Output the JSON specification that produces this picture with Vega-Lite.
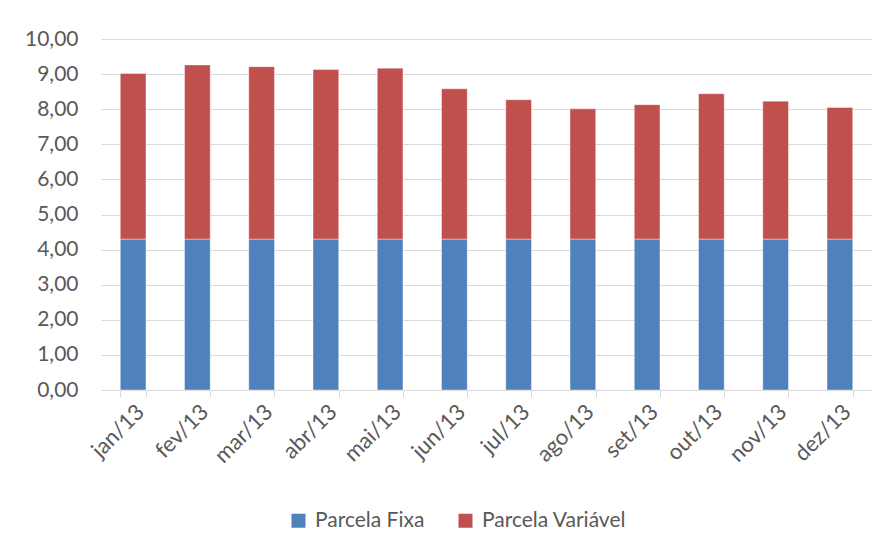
{
  "$schema": "https://vega.github.io/schema/vega-lite/v6.json",
  "width": 771,
  "height": 351,
  "autosize": {"type": "none"},
  "padding": {"left": 101, "top": 39, "right": 15, "bottom": 160},
  "background": "white",
  "config": {"view": {"stroke": null}},
  "data": {
    "values": [
      {"mes": "jan/13", "parcela": "Parcela Fixa", "valor": 4.30},
      {"mes": "jan/13", "parcela": "Parcela Variável", "valor": 4.72},
      {"mes": "fev/13", "parcela": "Parcela Fixa", "valor": 4.30},
      {"mes": "fev/13", "parcela": "Parcela Variável", "valor": 4.96},
      {"mes": "mar/13", "parcela": "Parcela Fixa", "valor": 4.30},
      {"mes": "mar/13", "parcela": "Parcela Variável", "valor": 4.91},
      {"mes": "abr/13", "parcela": "Parcela Fixa", "valor": 4.30},
      {"mes": "abr/13", "parcela": "Parcela Variável", "valor": 4.83},
      {"mes": "mai/13", "parcela": "Parcela Fixa", "valor": 4.30},
      {"mes": "mai/13", "parcela": "Parcela Variável", "valor": 4.87},
      {"mes": "jun/13", "parcela": "Parcela Fixa", "valor": 4.30},
      {"mes": "jun/13", "parcela": "Parcela Variável", "valor": 4.28},
      {"mes": "jul/13", "parcela": "Parcela Fixa", "valor": 4.30},
      {"mes": "jul/13", "parcela": "Parcela Variável", "valor": 3.97},
      {"mes": "ago/13", "parcela": "Parcela Fixa", "valor": 4.30},
      {"mes": "ago/13", "parcela": "Parcela Variável", "valor": 3.71},
      {"mes": "set/13", "parcela": "Parcela Fixa", "valor": 4.30},
      {"mes": "set/13", "parcela": "Parcela Variável", "valor": 3.83},
      {"mes": "out/13", "parcela": "Parcela Fixa", "valor": 4.30},
      {"mes": "out/13", "parcela": "Parcela Variável", "valor": 4.14},
      {"mes": "nov/13", "parcela": "Parcela Fixa", "valor": 4.30},
      {"mes": "nov/13", "parcela": "Parcela Variável", "valor": 3.93},
      {"mes": "dez/13", "parcela": "Parcela Fixa", "valor": 4.30},
      {"mes": "dez/13", "parcela": "Parcela Variável", "valor": 3.75}
    ]
  },
  "mark": {"type": "bar", "stroke": "white", "strokeOpacity": 0.4, "strokeWidth": 1},
  "encoding": {
    "x": {
      "field": "mes",
      "type": "nominal",
      "sort": null,
      "scale": {"paddingInner": 0.6, "paddingOuter": 0.3},
      "axis": {
        "title": null,
        "labelAngle": -45,
        "tickBand": "extent",
        "domainColor": "#D9D9D9",
        "domainWidth": 1,
        "tickColor": "#D9D9D9",
        "tickSize": 7,
        "labelFont": "Lato",
        "labelFontSize": 22,
        "labelColor": "#595959",
        "labelPadding": 4
      }
    },
    "y": {
      "field": "valor",
      "type": "quantitative",
      "stack": "zero",
      "scale": {"domain": [0, 10], "nice": false},
      "axis": {
        "title": null,
        "values": [0, 1, 2, 3, 4, 5, 6, 7, 8, 9, 10],
        "labelExpr": "replace(format(datum.value, '.2f'), '.', ',')",
        "domain": false,
        "ticks": false,
        "grid": true,
        "gridColor": "#D9D9D9",
        "gridWidth": 1,
        "labelFont": "Lato",
        "labelFontSize": 21,
        "labelColor": "#595959",
        "labelPadding": 23
      }
    },
    "order": {"field": "parcela", "type": "nominal", "sort": "ascending"},
    "color": {
      "field": "parcela",
      "type": "nominal",
      "scale": {"domain": ["Parcela Fixa", "Parcela Variável"], "range": ["#4F81BD", "#C0504D"]},
      "legend": {
        "title": null,
        "orient": "none",
        "direction": "horizontal",
        "legendX": 187,
        "legendY": 471,
        "symbolType": "square",
        "symbolSize": 196,
        "symbolStrokeWidth": 0,
        "labelFont": "Lato",
        "labelFontSize": 21,
        "labelColor": "#595959",
        "labelOffset": 6,
        "columnPadding": 30
      }
    }
  }
}
